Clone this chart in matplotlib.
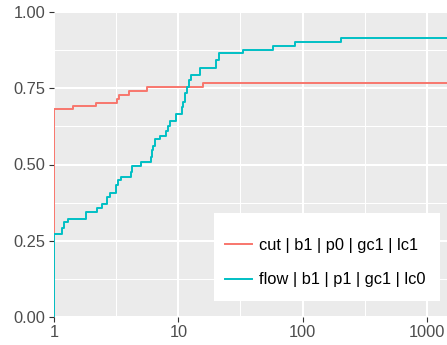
import matplotlib
matplotlib.use("Agg")
import matplotlib.pyplot as plt
from matplotlib.patches import Rectangle
import numpy as np

plt.rcParams['font.family'] = ['Liberation Sans', 'DejaVu Sans']

# Data (step curves, x on log scale)
cut_x = [1, 1, 1.43, 2.18, 3.23, 3.35, 4.03, 5.63, 15.7, 1450]
cut_y = [0, 0.681, 0.691, 0.703, 0.714, 0.729, 0.741, 0.754, 0.767, 0.767]

flow_x = [1, 1, 1.17, 1.2, 1.3, 1.8, 2.2, 2.45, 2.69, 2.8, 3.17, 3.3, 3.44,
          4.14, 4.27, 5.04, 6.0, 6.15, 6.3, 6.49, 7.12, 7.92, 8.3, 8.58,
          9.53, 10.65, 10.97, 11.3, 11.8, 12.2, 12.65, 14.9, 20.1, 21.4,
          33, 57.4, 86.9, 205, 1450]
flow_y = [0, 0.272, 0.2925, 0.312, 0.321, 0.345, 0.356, 0.369, 0.394, 0.407,
          0.432, 0.449, 0.46, 0.476, 0.495, 0.509, 0.525, 0.547, 0.56, 0.582,
          0.593, 0.61, 0.626, 0.642, 0.667, 0.689, 0.705, 0.733, 0.754, 0.776,
          0.793, 0.815, 0.842, 0.864, 0.877, 0.89, 0.903, 0.916, 0.916]

series_labels = ["cut | b1 | p0 | gc1 | lc1", "flow | b1 | p1 | gc1 | lc0"]
series_colors = ["#F8766D", "#00BFC4"]

x_ticks = [1, 10, 100, 1000]
x_ticklabels = ["1", "10", "100", "1000"]
y_ticks = [0.0, 0.25, 0.5, 0.75, 1.0]
y_ticklabels = ["0.00", "0.25", "0.50", "0.75", "1.00"]

W, H = 447, 345
fig = plt.figure(figsize=(W / 100, H / 100), dpi=100)
ax = fig.add_axes([54 / W, (H - 317) / H, (W - 54) / W, (317 - 12) / H])
ax.set_facecolor("#EBEBEB")
for s in ax.spines.values():
    s.set_visible(False)

ax.set_xscale("log")
ax.set_xlim(1, 1450)
ax.set_ylim(0, 1)

# grid
for v in [10 ** 0.5, 10 ** 1.5, 10 ** 2.5]:
    ax.axvline(v, color="white", lw=0.75, zorder=0.5)
for v in [0.125, 0.375, 0.625, 0.875]:
    ax.axhline(v, color="white", lw=0.75, zorder=0.5)
for v in x_ticks:
    ax.axvline(v, color="white", lw=1.45, zorder=0.6)
for v in y_ticks:
    ax.axhline(v, color="white", lw=1.45, zorder=0.6)

ax.step(cut_x, cut_y, where="post", color=series_colors[0], lw=1.4,
        label=series_labels[0], zorder=2)
ax.step(flow_x, flow_y, where="post", color=series_colors[1], lw=1.4,
        label=series_labels[1], zorder=2.1)

ax.set_xticks(x_ticks)
ax.set_xticklabels(x_ticklabels)
ax.xaxis.set_minor_locator(matplotlib.ticker.NullLocator())
ax.set_yticks(y_ticks)
ax.set_yticklabels(y_ticklabels)
ax.tick_params(axis="both", which="major", length=3.5, width=0.8,
               color="#333333", labelcolor="#4D4D4D", labelsize=11.8, pad=2.5)

# legend background
ax.add_patch(Rectangle((0.407, 0.053), 0.575, 0.289, transform=ax.transAxes,
                       facecolor="white", edgecolor="none", zorder=3))
leg = ax.legend(loc="center left", bbox_to_anchor=(0.435, 0.179), frameon=False,
                fontsize=11.8, handlelength=1.63, handletextpad=0.45,
                labelspacing=1.2, borderpad=0, borderaxespad=0)
leg.set_zorder(4)

fig.savefig("out.png", dpi=100)
